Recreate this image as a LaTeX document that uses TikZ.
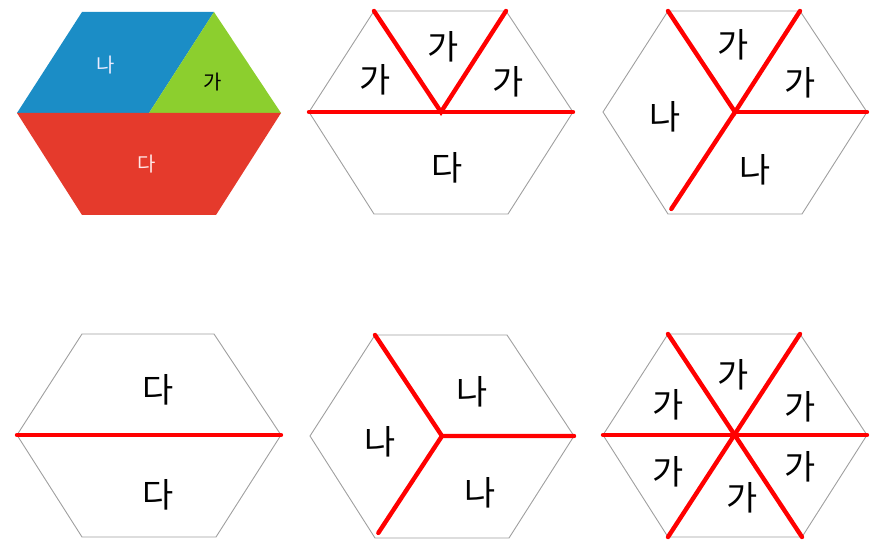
\documentclass[tikz,border=0pt]{standalone}
\usepackage{fontspec}
\usetikzlibrary{calc}
\newfontfamily\kr{Noto Sans CJK KR}
\definecolor{hexblue}{HTML}{1B8DC6}
\definecolor{hexgreen}{HTML}{8CCF2E}
\definecolor{hexred}{HTML}{E53A2C}
\begin{document}
\begin{tikzpicture}[x=1bp,y=-1bp,
  hexline/.style={draw=gray!75, line width=0.9bp},
  cut/.style={draw=red, line width=4.4bp, line cap=round},
  lab/.style={font=\kr\fontsize{34}{34}\selectfont, inner sep=0pt, text=black},
  slab/.style={font=\kr\fontsize{20}{20}\selectfont, inner sep=0pt}]
\useasboundingbox (0,0) rectangle (879,540);
\foreach \n/\cx/\cy in {h1/149/113, h2/441/112, h3/735/112, h4/149/435, h5/442/436, h6/735/435}{
  \coordinate (\n-c)  at (\cx,\cy);
  \coordinate (\n-tl) at (\cx-67,\cy-101);
  \coordinate (\n-tr) at (\cx+65,\cy-101);
  \coordinate (\n-r)  at (\cx+132,\cy);
  \coordinate (\n-br) at (\cx+67,\cy+102);
  \coordinate (\n-bl) at (\cx-67,\cy+102);
  \coordinate (\n-l)  at (\cx-132,\cy);
}
% hexagon 1 (coloured)
\fill[hexblue] (h1-tl) -- (h1-tr) -- (h1-c) -- (h1-l) -- cycle;
\fill[hexgreen] (h1-tr) -- (h1-r) -- (h1-c) -- cycle;
\fill[hexred] (h1-l) -- (h1-r) -- (h1-br) -- (h1-bl) -- cycle;
\node[slab, text=white!92!blue] (h1a) at (106,65) {나};
\node[slab, text=black] (h1b) at (213,82) {가};
\node[slab, text=white!90!red] (h1c) at (147,164) {다};
% outlines
\foreach \n in {h2,h3,h4,h5,h6}{
  \draw[hexline] (\n-tl) -- (\n-tr) -- (\n-r) -- (\n-br) -- (\n-bl) -- (\n-l) -- cycle;
}
% hexagon 2
\draw[cut] (h2-l) -- (h2-r);
\draw[cut] (h2-tl) -- (h2-c) -- (h2-tr);
\node[lab] (h2a) at (443,47) {가};
\node[lab] (h2b) at (375,80) {가};
\node[lab] (h2c) at (508,82) {가};
\node[lab] (h2d) at (447,168) {다};
% hexagon 3
\draw[cut] (h3-tl) -- (h3-c) -- (h3-tr);
\draw[cut] (h3-c) -- (h3-r);
\draw[cut] (h3-c) -- ($(h3-c)!0.95!(h3-bl)$);
\node[lab] (h3a) at (733,45) {가};
\node[lab] (h3b) at (800,83) {가};
\node[lab] (h3c) at (665,117) {나};
\node[lab] (h3d) at (755,170) {나};
% hexagon 4
\draw[cut] (h4-l) -- (h4-r);
\node[lab] (h4a) at (158,390) {다};
\node[lab] (h4b) at (158,495) {다};
% hexagon 5
\draw[cut] (h5-tl) -- (h5-c) -- (h5-r);
\draw[cut] (h5-c) -- ($(h5-c)!0.95!(h5-bl)$);
\node[lab] (h5a) at (472,392) {나};
\node[lab] (h5b) at (380,442) {나};
\node[lab] (h5c) at (480,493) {나};
% hexagon 6
\draw[cut] (h6-l) -- (h6-r);
\draw[cut] (h6-tl) -- (h6-br);
\draw[cut] (h6-tr) -- (h6-bl);
\node[lab] (h6a) at (733,375) {가};
\node[lab] (h6b) at (668,405) {가};
\node[lab] (h6c) at (800,407) {가};
\node[lab] (h6d) at (668,472) {가};
\node[lab] (h6e) at (800,467) {가};
\node[lab] (h6f) at (742,498) {가};
\end{tikzpicture}
\end{document}
